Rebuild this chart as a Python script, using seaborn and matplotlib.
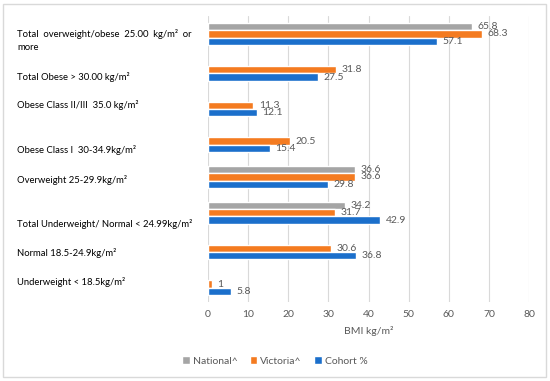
import numpy as np
import matplotlib.pyplot as plt
import matplotlib.transforms as mtransforms
from matplotlib.patches import Rectangle
import pandas as pd
import seaborn as sns

# Data (top to bottom as drawn)
categories = [
    "Total  overweight/obese  25.00  kg/m\u00b2  or\nmore",
    "Total Obese > 30.00 kg/m\u00b2",
    "Obese Class II/III  35.0 kg/m\u00b2",
    "Obese Class I  30-34.9kg/m\u00b2",
    "Overweight 25-29.9kg/m\u00b2",
    "Total Underweight/ Normal < 24.99kg/m\u00b2",
    "Normal 18.5-24.9kg/m\u00b2",
    "Underweight < 18.5kg/m\u00b2",
]
national = [65.8, np.nan, np.nan, np.nan, 36.6, 34.2, np.nan, np.nan]
victoria = [68.3, 31.8, 11.3, 20.5, 36.6, 31.7, 30.6, 1]
cohort = [57.1, 27.5, 12.1, 15.4, 29.8, 42.9, 36.8, 5.8]
series_names = ["National^", "Victoria^", "Cohort %"]
colors = ["#A5A5A5", "#F47B20", "#1B6FCB"]

df = pd.DataFrame({"category": categories * 3,
                   "series": np.repeat(series_names, len(categories)),
                   "value": national + victoria + cohort})

sns.set_theme(style="white")
plt.rcParams["font.family"] = ["Lato", "DejaVu Sans"]
txt_gray = "#595959"

fig = plt.figure(figsize=(5.5, 3.81), dpi=100)
ax = fig.add_axes([208 / 550, 1 - 302 / 381, 321 / 550, 286 / 381])

sns.barplot(data=df, y="category", x="value", hue="series", order=categories,
            hue_order=series_names, palette=colors, orient="h", width=0.62,
            saturation=1, legend=True, ax=ax)

for cont in ax.containers:
    labels = ["" if np.isnan(v) else f"{v:g}" for v in cont.datavalues]
    ax.bar_label(cont, labels=labels, padding=4, fontsize=7.5, color=txt_gray)

ax.set_xlim(0, 80)
ax.set_xticks(range(0, 81, 10))
ax.grid(axis="x", color="#D9D9D9", linewidth=0.8)
ax.set_axisbelow(True)
sns.despine(ax=ax, left=True, bottom=True)
ax.tick_params(axis="x", length=0, pad=6, labelsize=7.5, labelcolor=txt_gray)
ax.tick_params(axis="y", length=0, pad=137.5, labelsize=6.8, labelcolor="#000000")
offsets = [4, 6, -1, 8, 2, 10, 4, -3]
for lab, off in zip(ax.get_yticklabels(), offsets):
    lab.set_horizontalalignment("left")
    lab.set_linespacing(1.5)
    lab.set_transform(lab.get_transform() + mtransforms.ScaledTranslation(0, -off / 100, fig.dpi_scale_trans))

ax.set_ylabel("")
ax.set_xlabel("BMI kg/m\u00b2", fontsize=7.5, color=txt_gray, labelpad=5)

ax.legend_.remove()
handles, lbls = ax.get_legend_handles_labels()
fig.legend(handles, lbls, loc="center", bbox_to_anchor=(0.5, 1 - 361 / 381), ncol=3,
           frameon=False, fontsize=7.5, labelcolor=txt_gray, handlelength=0.7,
           handleheight=0.7, handletextpad=0.3, columnspacing=1.2)

fig.patches.append(Rectangle((3 / 550, 4 / 381), 543 / 550, 373 / 381, transform=fig.transFigure,
                             fill=False, edgecolor="#D9D9D9", linewidth=1))

fig.savefig("out.png", dpi=100)
